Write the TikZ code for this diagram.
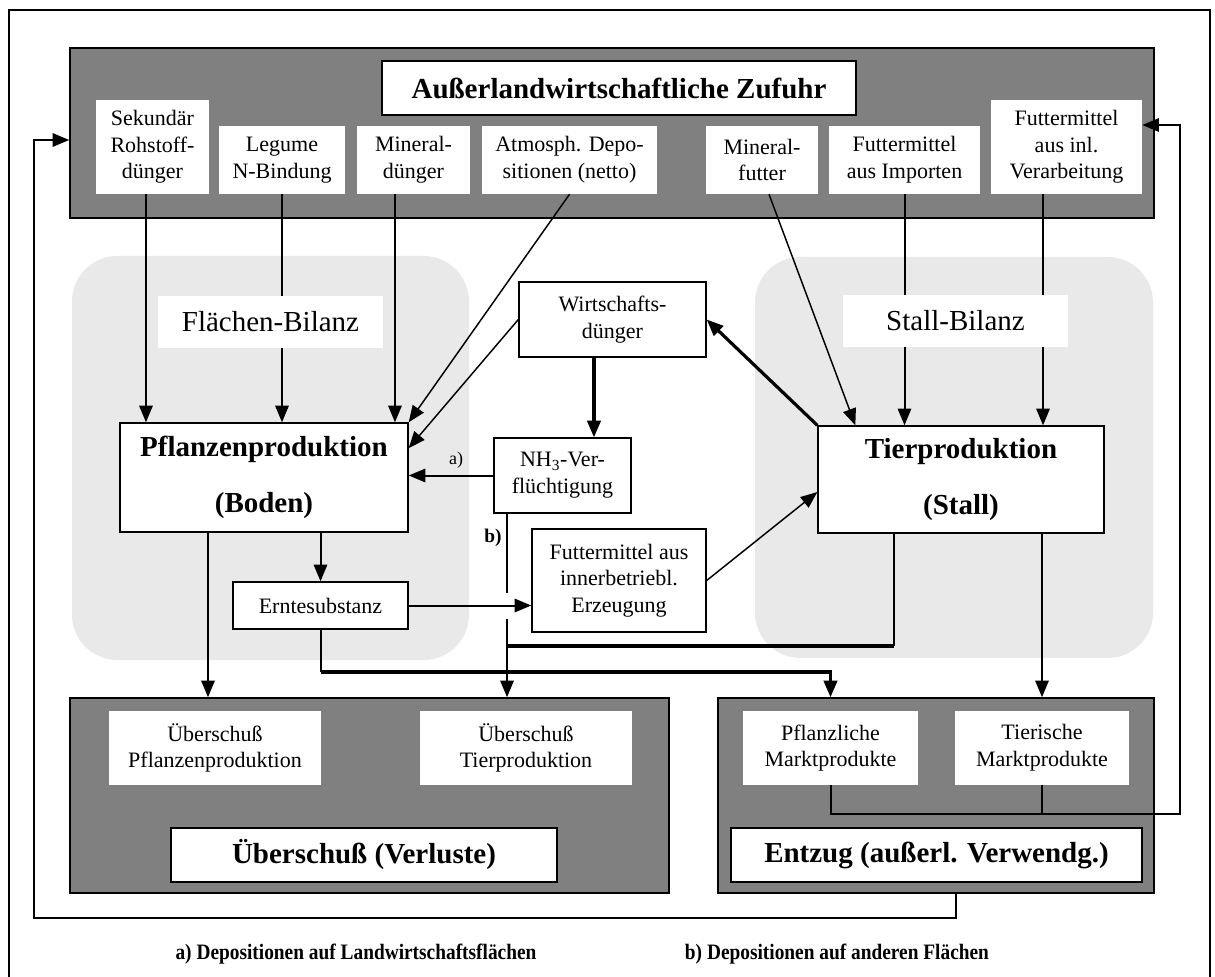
\documentclass[tikz,border=0pt]{standalone}
\usepackage{fontspec}
\setmainfont{Liberation Serif}
\usepackage{graphicx}
\usetikzlibrary{arrows.meta,fit,calc}

\definecolor{darkpanel}{HTML}{808080}
\definecolor{lightpanel}{HTML}{E9E9E9}

\begin{document}
\begin{tikzpicture}[x=0.75pt,y=-0.75pt,
  panel/.style={fill=darkpanel,draw=black,line width=1.1pt,inner sep=0pt},
  region/.style={fill=lightpanel,rounded corners=34pt,inner sep=0pt},
  lbl/.style={fill=white,inner sep=0pt},
  box/.style={lbl,draw=black,line width=1pt},
  headbox/.style={fill=white,draw=black,line width=1.1pt,inner sep=0pt},
  txt/.style={inner sep=0pt,align=center,font=\fontsize{16.5}{20}\selectfont},
  headtxt/.style={inner sep=0pt,font=\bfseries\fontsize{21.75}{26}\selectfont},
  prodtxt/.style={inner sep=0pt,align=center,font=\bfseries\fontsize{21.75}{42}\selectfont},
  bilanztxt/.style={inner sep=0pt,font=\fontsize{21.75}{26}\selectfont},
  fineline/.style={line width=1.1pt},
  midline/.style={line width=1.5pt},
  heavyline/.style={line width=2.4pt},
  arrowed/.style={-{Triangle[length=12.5pt,width=10pt]}},
]
\useasboundingbox (0,0) rectangle (1215,977);
\clip (0,0) rectangle (1215,977);

% outer frame
\draw[line width=1.3pt] (9,995) -- (9,10) -- (1210,10) -- (1210,995);

% balance regions
\node[region,fit={(72,256)(469,660)}] (flreg) {};
\node[region,fit={(755,257)(1153,658)}] (streg) {};

% dark panels
\node[panel,fit={(70,48)(1154,218)}] (topbar) {};
\node[panel,fit={(70,698)(669,893)}] (ueb) {};
\node[panel,fit={(718,698)(1154,893)}] (ent) {};

% inputs
\node[headbox,fit={(382,61)(856,115)}] (zuf) {};
\node[headtxt] (zuf-t) at (zuf) {Außerlandwirtschaftliche Zufuhr};
\node[lbl,fit={(96,100)(209,194)}] (sek) {};
\node[txt] (sek-t) at (sek) {Sekundär\\Rohstoff-\\dünger};
\node[lbl,fit={(219,126)(345,194)}] (leg) {};
\node[txt] (leg-t) at (leg) {Legume\\N-Bindung};
\node[lbl,fit={(357,126)(470,194)}] (mdg) {};
\node[txt] (mdg-t) at (mdg) {Mineral-\\dünger};
\node[lbl,fit={(482,126)(657,194)}] (atm) {};
\node[txt] (atm-t) at (atm) {Atmosph. Depo-\\sitionen (netto)};
\node[lbl,fit={(706,126)(818,194)}] (mfu) {};
\node[txt] (mfu-t) at (mfu) {Mineral-\\futter};
\node[lbl,fit={(829,126)(980,194)}] (fimp) {};
\node[txt] (fimp-t) at (fimp) {Futtermittel\\aus Importen};
\node[lbl,fit={(991,100)(1142,194)}] (finl) {};
\node[txt] (finl-t) at (finl) {Futtermittel\\aus inl.\\Verarbeitung};

% production and internal flows
\node[box,fit={(120,423)(408,532)}] (pfl) {};
\node[prodtxt] (pfl-t) at (pfl) {Pflanzenproduktion\\(Boden)};
\node[box,fit={(818,426)(1104,533)}] (tier) {};
\node[prodtxt] (tier-t) at (tier) {Tierproduktion\\(Stall)};
\node[box,fit={(519,282)(706,357)}] (wirt) {};
\node[txt] (wirt-t) at (wirt) {Wirtschafts-\\dünger};
\node[box,fit={(494,438)(631,513)}] (nh3) {};
\node[txt] (nh3-t) at (nh3) {NH\textsubscript{3}-Ver-\\flüchtigung};
\node[box,fit={(532,529)(706,632)}] (fin) {};
\node[txt] (fin-t) at (fin) {Futtermittel aus\\innerbetriebl.\\Erzeugung};
\node[box,fit={(233,582)(408,629)}] (ernte) {};
\node[txt] (ernte-t) at (ernte) {Erntesubstanz};

% outputs
\node[lbl,fit={(109,711)(321,785)}] (uebpf) {};
\node[txt] (uebpf-t) at (uebpf) {Überschuß\\Pflanzenproduktion};
\node[lbl,fit={(420,711)(632,785)}] (uebti) {};
\node[txt] (uebti-t) at (uebti) {Überschuß\\Tierproduktion};
\node[headbox,fit={(171,828)(557,882)}] (uebt) {};
\node[headtxt] (uebt-t) at (uebt) {Überschuß (Verluste)};
\node[lbl,fit={(743,711)(918,785)}] (pmk) {};
\node[txt] (pmk-t) at (pmk) {Pflanzliche\\Marktprodukte};
\node[lbl,fit={(955,711)(1129,785)}] (tmk) {};
\node[txt] (tmk-t) at (tmk) {Tierische\\Marktprodukte};
\node[headbox,fit={(731,828)(1142,882)}] (entt) {};
\node[headtxt] (entt-t) at (entt) {Entzug (außerl. Verwendg.)};

% helper points
\coordinate (sekout) at ([xshift=-4.9pt]sek.south);
\coordinate (mdgout) at ([xshift=-13.9pt]mdg.south);
\coordinate (wirtout) at ([xshift=-13.9pt]wirt.south);
\coordinate (finlout) at ([xshift=-17.6pt]finl.south);
\coordinate (pflout) at ([xshift=-42pt]pfl.south);
\coordinate (tierout) at ([xshift=-50.25pt]tier.south);
\coordinate (bx) at ([xshift=-41.6pt]nh3.south);
\coordinate (bgap) at (bx |- ernte.east);
\coordinate (midrow) at (0,646);
\coordinate (lowrow) at (0,672);
\coordinate (rr) at (1180,814);
\coordinate (rl) at (34,918);

% inputs to the production units
\draw[midline,arrowed] (sekout) -- (sekout |- pfl.north);
\draw[midline,arrowed] (leg.south) -- (leg.south |- pfl.north);
\draw[midline,arrowed] (mdgout) -- (mdgout |- pfl.north);
\draw[fineline,arrowed] (atm.south) -- (pfl.north east);
\draw[fineline,arrowed] ([xshift=5.25pt]mfu.south) -- ([xshift=28.5pt]tier.north west);
\draw[midline,arrowed] (fimp.south) -- (fimp.south |- tier.north);
\draw[midline,arrowed] (finlout) -- (finlout |- tier.north);

% manure and volatilisation
\draw[heavyline,arrowed] (tier.north west) -- (wirt.east);
\draw[fineline,arrowed] (wirt.west) -- ([yshift=22pt]pfl.east);
\draw[heavyline,arrowed] (wirtout) -- (wirtout |- nh3.north);
\draw[midline,arrowed] (nh3.west) -- (nh3.west -| pfl.east);
\node[font=\fontsize{13.5}{16}\selectfont] (la) at (456,460) {a)};
\draw[midline] (bx) -- ([yshift=9.75pt]bgap);
\draw[midline,arrowed] ([yshift=-9.75pt]bgap) -- (bx |- ueb.north);
\node[font=\bfseries\fontsize{14.5}{17}\selectfont] (lb) at (493,538) {b)};

% crop and feed
\draw[midline,arrowed] (ernte.north |- pfl.south) -- (ernte.north);
\draw[midline,arrowed] (ernte.east) -- (ernte.east -| fin.west);
\draw[fineline,arrowed] (fin.east) -- ([yshift=-9.4pt]tier.west);

% surpluses and market products
\draw[midline,arrowed] (pflout) -- (pflout |- ueb.north);
\draw[midline] (tierout) -- (tierout |- midrow);
\draw[heavyline] (tierout |- midrow) -- (bx |- midrow);
\draw[midline] (ernte.south) -- (ernte.south |- lowrow);
\draw[heavyline,arrowed] (ernte.south |- lowrow) -- (pmk.north |- lowrow) -- (pmk.north |- ent.north);
\draw[midline,arrowed] (tmk.north |- tier.south) -- (tmk.north |- ent.north);

% feedback loops
\draw[midline] (tmk.south) -- (tmk.south |- rr);
\draw[midline,arrowed] (pmk.south) |- (rr) |- ([yshift=16.5pt]finl.east);
\draw[midline,arrowed] ([xshift=15pt]ent.south) |- (rl) |- ([yshift=-5.25pt]topbar.west);

% balance labels sit on top of the lines
\node[lbl,fit={(158,296)(383,348)}] (flbil) {};
\node[bilanztxt] (flbil-t) at (flbil) {Flächen-Bilanz};
\node[lbl,fit={(843,295)(1068,347)}] (stbil) {};
\node[bilanztxt] (stbil-t) at (stbil) {Stall-Bilanz};

% footnotes
\node[font=\bfseries\fontsize{16.5}{20}\selectfont] (fna) at (356,954)
  {\scalebox{0.88}[1]{a) Depositionen auf Landwirtschaftsflächen}};
\node[font=\bfseries\fontsize{16.5}{20}\selectfont] (fnb) at (837,954)
  {\scalebox{0.88}[1]{b) Depositionen auf anderen Flächen}};
\end{tikzpicture}
\end{document}
